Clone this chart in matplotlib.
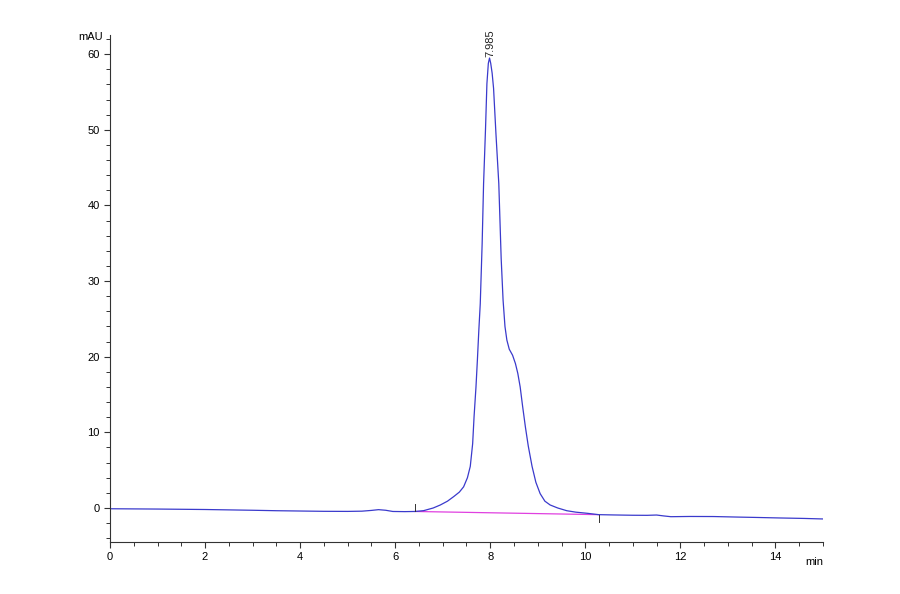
from matplotlib import pyplot as plt
from matplotlib.ticker import MultipleLocator
import numpy as np

# chromatogram trace (min, mAU)
time_min = [0.0, 0.5, 1.0, 1.5, 2.0, 2.5, 3.0, 3.5, 4.0, 4.5, 5.0, 5.3, 5.5, 5.65, 5.8,
            5.95, 6.2, 6.42, 6.6, 6.8, 6.95, 7.1, 7.23, 7.35, 7.44, 7.52, 7.58, 7.63,
            7.66, 7.70, 7.73, 7.76, 7.79, 7.83, 7.86, 7.90, 7.93, 7.96, 7.985, 8.01,
            8.04, 8.07, 8.12, 8.18, 8.23, 8.27, 8.31, 8.35, 8.40, 8.47, 8.53, 8.58,
            8.63, 8.68, 8.74, 8.80, 8.88, 8.96, 9.05, 9.15, 9.26, 9.42, 9.61, 9.80,
            10.04, 10.28, 10.6, 11.0, 11.3, 11.5, 11.65, 11.8, 12.2, 12.7, 13.2, 13.6,
            14.1, 14.6, 15.0]
signal_mau = [-0.10, -0.12, -0.14, -0.17, -0.20, -0.25, -0.30, -0.36, -0.40, -0.44, -0.45,
              -0.42, -0.32, -0.22, -0.30, -0.46, -0.48, -0.46, -0.35, 0.0, 0.4, 0.9, 1.5,
              2.1, 2.8, 4.0, 5.5, 8.5, 12.1, 16.0, 19.6, 23.5, 27.0, 35.0, 42.9, 50.0,
              56.1, 58.8, 59.5, 58.8, 57.5, 55.5, 49.5, 42.9, 33.0, 27.5, 24.0, 22.2,
              21.0, 20.2, 19.1, 17.8, 16.0, 13.5, 10.7, 8.2, 5.5, 3.4, 1.9, 0.9, 0.4,
              0.0, -0.36, -0.55, -0.70, -0.88, -0.92, -0.96, -0.97, -0.93, -1.05, -1.15,
              -1.12, -1.13, -1.20, -1.25, -1.32, -1.38, -1.45]

# integration baseline and peak label
base_t = [6.42, 10.28]
base_y = [-0.46, -0.88]
peak_t = 7.985
peak_y = 59.5
peak_label = '7.985'

if __name__ == "__main__":
    plt.rcParams['font.family'] = ['Liberation Sans', 'DejaVu Sans']
    fig = plt.figure(figsize=(9, 5.94), dpi=100)
    ax = fig.add_axes([0.1222, 0.0875, 0.7922, 0.853])

    ax.plot(time_min, signal_mau, color='#3a3acc', linewidth=0.9)
    ax.plot(base_t, base_y, color='#e040e0', linewidth=0.9, zorder=1)
    # start / end markers of integration
    ax.plot([base_t[0], base_t[0]], [base_y[0], base_y[0] + 1.0], color='#333333', linewidth=0.7)
    ax.plot([base_t[1], base_t[1]], [base_y[1], base_y[1] - 1.0], color='#333333', linewidth=0.7)

    ax.text(peak_t + 0.02, peak_y + 0.1, peak_label, rotation=90, ha='center', va='bottom',
            fontsize=8, color='#222222')

    ax.set_xlim(0, 15)
    ax.set_ylim(-4.5, 62.5)
    ax.spines['top'].set_visible(False)
    ax.spines['right'].set_visible(False)
    for s in ['left', 'bottom']:
        ax.spines[s].set_color('#333333')
        ax.spines[s].set_linewidth(0.8)

    ax.xaxis.set_major_locator(MultipleLocator(2))
    ax.xaxis.set_minor_locator(MultipleLocator(0.5))
    ax.yaxis.set_major_locator(MultipleLocator(10))
    ax.yaxis.set_minor_locator(MultipleLocator(2))
    ax.set_xticks(np.arange(0, 15, 2))
    ax.set_yticks(np.arange(0, 61, 10))
    ax.tick_params(which='major', length=4.5, width=0.8, labelsize=8, color='#333333', pad=3)
    ax.tick_params(which='minor', length=2.8, width=0.7, color='#333333')

    ax.text(-0.15, 62.3, 'mAU', ha='right', va='center', fontsize=8)
    ax.text(15.0, -7.2, 'min', ha='right', va='center', fontsize=8)

    plt.savefig('out.png')
